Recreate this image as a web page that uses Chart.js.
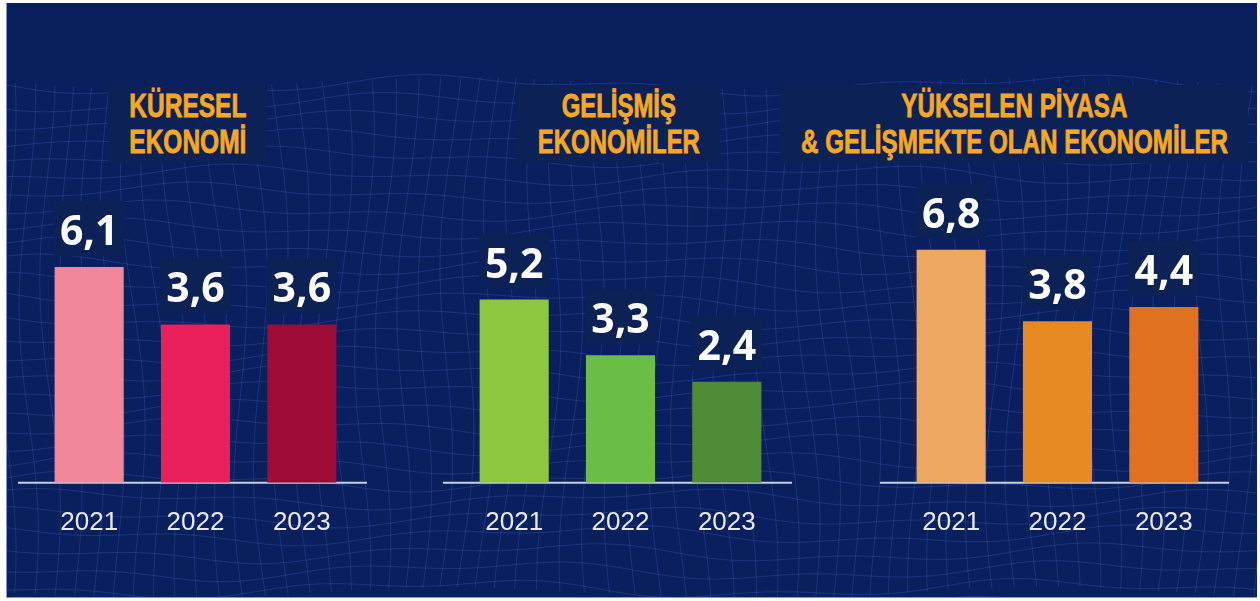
<!DOCTYPE html>
<html>
<head>
<meta charset="utf-8">
<script src="https://cdn.jsdelivr.net/npm/chart.js@4.4.1/dist/chart.umd.min.js"></script>
<style>
body{margin:0;width:1260px;height:601px;background:#fff;overflow:hidden;position:relative;}
#frame{position:absolute;left:6px;top:3px;width:1250px;height:594px;background:#0a1f5e;border-left:1px solid #7f97c6;border-bottom:1px solid #7f97c6;overflow:hidden;}
#mesh{position:absolute;left:0;top:0;}
.title{position:absolute;top:85px;height:78px;background:#0c2257;color:#f7a823;
  font-family:"Liberation Sans",Arial,sans-serif;font-weight:700;font-size:33px;line-height:36px;
  -webkit-text-stroke:0.8px #f7a823;
  text-align:center;display:flex;flex-direction:column;align-items:center;justify-content:center;white-space:nowrap;}
.title span{display:block;transform-origin:center;}
.box{position:absolute;}
</style>
</head>
<body>
<div id="frame"><canvas id="mesh" width="1250" height="594"></canvas></div>

<div class="title" style="left:108px;width:159px;" data-w="117"><span>KÜRESEL</span><span>EKONOMİ</span></div>
<div class="title" style="left:516px;width:205px;" data-w="162"><span>GELİŞMİŞ</span><span>EKONOMİLER</span></div>
<div class="title" style="left:780px;width:468px;" data-w="427"><span>YÜKSELEN PİYASA</span><span>&amp; GELİŞMEKTE OLAN EKONOMİLER</span></div>

<div class="box" style="left:16px;top:150px;width:359px;height:412px;"><canvas id="c1"></canvas></div>
<div class="box" style="left:441px;top:150px;width:359px;height:412px;"><canvas id="c2"></canvas></div>
<div class="box" style="left:878px;top:150px;width:359px;height:412px;"><canvas id="c3"></canvas></div>

<script>
// data
const years = ['2021', '2022', '2023'];
const kuresel = [6.1, 3.6, 3.6];
const gelismis = [5.2, 3.3, 2.4];
const yukselen = [6.8, 3.8, 4.4];

const pinkColors = ['#f0879b', '#ea1f5b', '#9e0b36'];
const greenColors = ['#8dc63f', '#6bbd45', '#4f8a37'];
const orangeColors = ['#eda761', '#e78a23', '#df7121'];

// squeeze the titles to a condensed look
document.querySelectorAll('.title').forEach(t => {
    const spans = t.querySelectorAll('span');
    const widest = Math.max(...[...spans].map(s => s.getBoundingClientRect().width));
    const k = t.dataset.w / widest;
    spans.forEach(s => s.style.transform = 'scaleX(' + k + ')');
});

// background wave grid (decoration only)
function drawMesh(){
    const c = document.getElementById('mesh');
    const ctx = c.getContext('2d');
    ctx.strokeStyle = 'rgba(70,110,215,0.28)';
    ctx.lineWidth = 1;
    for (let j = 0; j < 30; j++) {
        const y0 = 82 + j * 18;
        ctx.beginPath();
        for (let x = 0; x <= 1250; x += 10) {
            const y = y0 + 7 * Math.sin(x / 95 + j * 0.45) + 4 * Math.sin(x / 37 + j);
            if (x === 0) ctx.moveTo(x, y); else ctx.lineTo(x, y);
        }
        ctx.stroke();
    }
    for (let i = 0; i < 62; i++) {
        const x0 = i * 21;
        ctx.beginPath();
        for (let y = 80; y <= 594; y += 10) {
            const x = x0 + 9 * Math.sin(y / 70 + i * 0.35) + (y - 300) * 0.03 * Math.sin(i * 0.2);
            const yy = y + 6 * Math.sin(x0 / 95);
            if (y === 80) ctx.moveTo(x, yy); else ctx.lineTo(x, yy);
        }
        ctx.stroke();
    }
}
drawMesh();

const baseLine = {
    id: 'baseLine',
    beforeDatasetsDraw(chart) {
        const ctx = chart.ctx;
        const a = chart.chartArea;
        ctx.save();
        ctx.strokeStyle = '#c9cfe1';
        ctx.lineWidth = 2;
        ctx.beginPath();
        ctx.moveTo(a.left - 18, a.bottom);
        ctx.lineTo(a.right + 12, a.bottom);
        ctx.stroke();
        ctx.restore();
    }
};

const valueBoxes = {
    id: 'valueBoxes',
    afterDatasetsDraw(chart) {
        const ctx = chart.ctx;
        const meta = chart.getDatasetMeta(0);
        const data = chart.data.datasets[0].data;
        ctx.save();
        ctx.font = 'bold 41px "Open Sans"';
        ctx.textAlign = 'center';
        ctx.textBaseline = 'alphabetic';
        meta.data.forEach((bar, i) => {
            const txt = data[i].toFixed(1).replace('.', ',');
            const w = ctx.measureText(txt).width + 12;
            const bottom = bar.y - 11;
            ctx.fillStyle = '#0c2257';
            ctx.fillRect(bar.x - w / 2, bottom - 55, w, 55);
            ctx.fillStyle = '#ffffff';
            ctx.fillText(txt, bar.x, bottom - 11);
        });
        ctx.restore();
    }
};

function createBar(id, data, colors, yMin, yMax){
    const ctx = document.getElementById(id).getContext('2d');

        const myChart = new Chart(ctx, {
            type: 'bar',
            data: {
            labels: years,
            datasets: [{
                data: data,
                backgroundColor: colors,
                borderWidth: 0,
                base: yMin,
                barPercentage: 0.65,
                categoryPercentage: 1
            }]
            },
            options: {
                responsive: true,
                maintainAspectRatio: false,
                animation: false,
                layout: { padding: { left: 20, right: 20, top: 0, bottom: 0 } },
                plugins: {
                    legend: { display: false },
                    tooltip: { enabled: false }
                },
                scales: {
                    x: {
                        grid: { display: false, drawTicks: false },
                        border: { display: false },
                        ticks: {
                            color: '#e6e9f1',
                            padding: 24,
                            font: { family: 'Liberation Sans', size: 26, weight: '500' }
                        }
                    },
                    y: {
                        display: false,
                        min: yMin,
                        max: yMax
                    }
                }
            },
            plugins: [baseLine, valueBoxes]
        });
};

createBar('c1', kuresel, pinkColors, -3.3, 11.2);
createBar('c2', gelismis, greenColors, -1.05, 10.3);
createBar('c3', yukselen, orangeColors, -3.0, 11.0);
</script>
</body>
</html>
